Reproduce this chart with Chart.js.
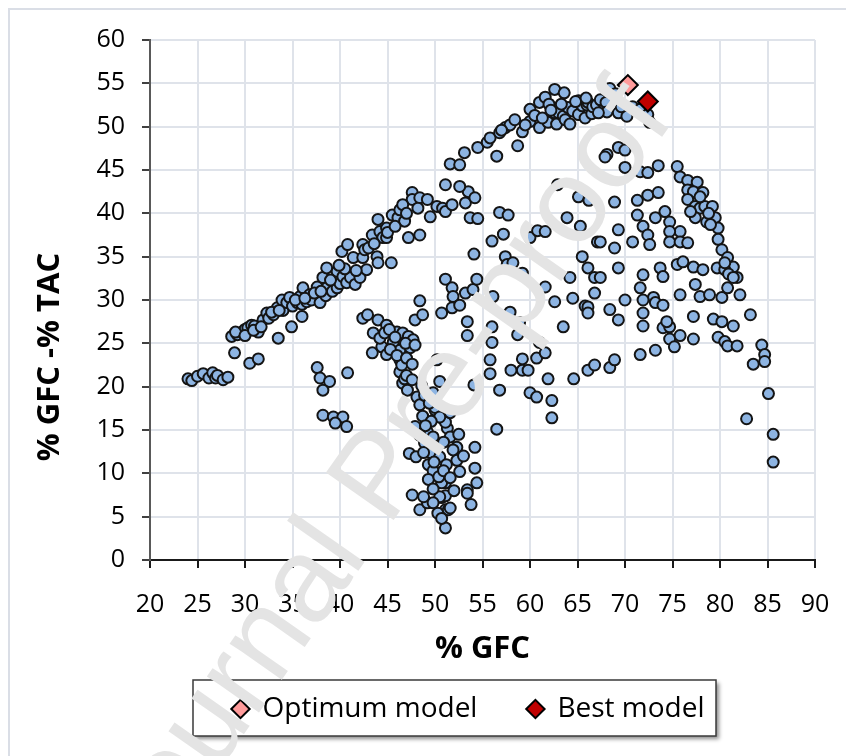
<!DOCTYPE html>
<html>
<head>
<meta charset="utf-8">
<script src="https://cdn.jsdelivr.net/npm/chart.js@4.4.0/dist/chart.umd.min.js"></script>
<style>
  html, body { margin: 0; padding: 0; background: #fff; }
</style>
</head>
<body>
<canvas id="chart" width="846" height="756"></canvas>
<script>
// model runs, [% GFC, % GFC - % TAC]
const leftRuns = [
  [24.0,20.9],[24.4,20.7],[25.0,21.2],[25.6,21.5],[26.2,21.0],[26.6,21.6],[26.9,21.0],[27.1,21.3],[27.7,20.8],[28.2,21.1],
  [28.6,25.8],[29.2,26.0],[29.7,26.3],[30.0,26.6],[30.3,26.8],[30.7,27.1],[31.0,27.0],[31.4,26.3],[31.9,27.7],[32.3,28.5],
  [32.5,27.9],[33.0,28.3],[33.4,29.1],[33.9,30.0],[34.0,28.8],[34.4,29.7],[34.7,30.3],[35.0,29.3],[35.5,29.7],[35.8,30.4],
  [36.0,29.5],[36.1,31.4],[36.5,29.8],[36.8,30.6],[37.0,30.0],[37.6,31.5],[37.9,29.7],[38.5,30.5],[38.6,31.4],[39.2,31.0],
  [39.7,31.4],[40.0,31.9],[28.9,23.9],[30.5,22.7],[31.4,23.2],[33.5,25.6],[34.9,26.9],[36.0,28.1],
  [29.0,26.3],[30.0,25.9],[30.9,26.5],[31.7,26.9],[32.8,28.6],[33.6,28.8],[35.3,30.0],[36.3,30.2],[37.3,30.8],[38.0,31.0]
];
const upperRuns = [
  [38.2,32.6],[38.6,33.7],[39.7,33.3],[40.3,32.7],[40.7,32.0],[41.1,32.6],[41.6,31.8],[42.1,32.6],[42.8,33.5],[41.4,34.9],
  [42.4,34.9],[43.9,35.0],[44.0,34.3],[40.2,35.6],[40.8,36.4],[42.4,36.4],[42.6,35.8],[43.0,36.0],[43.4,37.5],[44.2,37.9],
  [44.5,37.2],[44.0,39.3],[44.9,38.3],[44.9,37.2],[45.0,37.8],[45.5,39.8],[46.1,39.5],[46.3,40.4],[46.8,39.1],[47.2,37.2],
  [48.4,37.5],[47.6,42.4],[47.6,41.6],[48.4,41.8],[49.2,41.6],[48.2,40.6],[49.5,39.6],[50.2,40.8],[50.8,40.6],[51.1,40.2],
  [51.8,41.0],[53.2,41.2],[53.5,42.5],[54.2,41.8],[53.7,39.5],[54.5,39.4],[51.1,43.3],[52.6,43.1],[51.6,45.7],[52.6,45.6],
  [53.1,47.0],[54.5,47.6],[55.5,48.2],[55.8,48.7],[56.5,46.6],[56.8,49.3],[57.4,49.9],[57.9,50.2],[58.4,50.8],[58.7,47.8],
  [59.2,49.4],[60.0,50.6],[60.0,52.0],[61.0,49.9],[61.0,52.8],[61.6,53.4],[61.9,50.5],[62.0,52.6],[62.6,54.3],[62.6,51.6],
  [62.8,50.3],[63.0,51.6],[63.5,51.2],[63.6,53.9],[63.7,50.8],[64.0,52.2],[64.2,50.3],[64.5,51.8],[65.1,53.0],[65.1,51.4],
  [65.5,52.4],[65.8,51.0],[66.0,52.5],[66.1,52.8],[66.5,51.5],[66.6,52.3],[67.0,52.5],[67.4,53.1],[67.8,52.0],[68.0,52.8],
  [68.1,51.7],[68.4,54.4],[69.0,53.8],[69.3,51.6],[70.2,51.2],[70.8,52.3],[71.6,52.0],[72.4,51.4],[72.6,50.5],
  [45.4,34.3],[56.8,40.1],[57.7,39.8],[56.0,36.8],[57.2,37.6],[60.0,37.2],[60.8,38.0],[61.6,37.9],[54.1,35.3],[57.4,35.0],
  [57.6,34.1],[58.2,34.3],[59.2,33.1],
  [39.0,32.3],[40.5,33.6],[41.7,33.4],[39.9,34.0],[43.6,36.5],[45.8,38.5],[46.6,41.0],[47.0,40.0],
  [60.5,51.3],[61.3,51.0],[62.2,51.9],[63.3,52.6],[64.8,52.9],[65.9,53.3],[67.2,51.6],[69.6,52.3],[59.5,50.2],[57.0,49.6]
];
const middleRuns = [
  [51.1,32.4],[51.8,31.4],[51.9,30.4],[53.2,30.8],[54.0,31.2],[54.4,32.4],[56.1,30.4],[48.4,29.9],[61.6,31.5],[62.6,29.8],
  [64.2,32.6],[65.5,35.0],[66.1,33.7],[65.3,38.5],[63.9,39.5],[65.1,41.9],[66.2,41.5],[62.9,43.3],[67.1,36.7],[66.8,32.6],
  [66.8,30.8],[64.5,30.2],[65.8,29.3],[47.9,27.7],[48.7,28.3],[50.7,28.5],[51.8,29.1],[52.6,29.4],[53.4,27.5],[53.4,25.9],
  [56.0,26.9],[56.0,25.1],[57.9,28.6],[58.9,27.4],[58.7,26.0],[63.5,26.9],[66.1,29.2],[66.1,28.5],[61.0,25.1],[60.7,23.3],
  [61.6,23.9],[59.2,23.2],[58.0,21.9],[59.2,21.9],[59.8,21.9],[55.8,23.1],[55.8,21.5],[54.1,20.2],[56.8,19.6],[61.9,20.9],
  [60.0,19.3],[60.7,18.8],[62.3,18.4],[62.3,16.4],[64.6,20.9],[66.1,21.9],[66.8,22.5],[56.5,15.1]
];
const centralRuns = [
  [37.6,22.2],[37.9,21.0],[38.9,20.6],[38.2,19.6],[40.8,21.6],[38.2,16.7],[39.3,16.5],[40.3,16.5],[39.5,15.8],[40.7,15.4],
  [42.4,27.9],[42.9,28.3],[44.0,27.7],[44.9,27.1],[46.0,26.3],[46.6,26.2],[47.2,25.8],[47.7,25.4],[43.4,23.9],[44.4,24.6],
  [44.9,23.7],[45.6,25.1],[46.3,24.2],[47.4,24.5],[43.5,26.2],[44.2,25.6],[44.7,26.2],[46.3,23.1],[46.3,21.7],[46.6,20.4],
  [47.1,19.6],[48.1,18.8],[48.4,17.9],[46.5,22.5],[46.8,20.9],[47.9,15.4],[49.2,14.8],[49.8,14.2],[48.9,13.5],[50.0,13.0],
  [49.5,12.4],[50.5,11.9],[50.2,10.0],[51.1,8.9],[50.7,7.2],[51.1,5.8],[51.1,3.7],[50.0,17.3],[50.7,16.4],[51.3,15.2],
  [51.6,14.2],[52.3,13.0],[52.3,11.5],[52.6,10.2],[51.9,12.7],[53.4,8.1],[54.4,8.9],[54.2,10.6],[54.2,13.0],[53.4,7.7],
  [53.8,6.4],[47.6,7.5],[48.4,5.8],[49.2,6.6],[50.3,5.4],[51.4,5.8],[50.7,4.8],[51.1,7.4],[50.7,8.9],[50.5,7.3],
  [51.6,6.0],[50.2,23.1],[50.5,20.6],[49.8,19.3],[50.0,17.6],[51.1,15.9],[50.5,16.5],[47.3,12.3],[48.0,11.9],[48.8,12.4],
  [49.3,11.0],[49.8,10.3],[49.3,9.3],[49.8,8.2],[50.4,9.6],
  [45.2,26.6],[45.8,25.7],[46.9,25.0],[47.9,24.8],[45.3,24.3],[46.0,23.6],[47.0,23.3],[47.6,22.6],[47.0,21.3],[47.6,20.8],
  [48.6,20.1],[48.9,19.0],[49.4,18.1],[48.7,16.6],[49.6,16.0],[48.4,14.4],[49.0,15.5],[50.9,13.6],[51.2,11.0],[49.9,11.3],
  [50.9,10.3],[51.6,9.5],[52.0,8.0],[49.8,6.6],[48.8,7.3],[52.5,14.5],[53.0,12.0],[51.6,17.0]
];
const rightRuns = [
  [68.1,46.8],[69.3,47.6],[70.0,47.3],[67.9,46.5],[70.0,45.3],[71.6,44.8],[72.4,44.7],[73.5,45.5],[75.5,45.4],[75.8,44.2],
  [76.6,43.8],[77.6,43.6],[76.6,42.7],[77.2,42.5],[78.2,42.4],[76.6,41.6],[77.4,40.8],[77.9,40.6],[78.4,40.8],[79.2,40.8],
  [77.4,39.5],[78.6,39.0],[79.5,39.5],[79.8,38.3],[79.8,37.0],[80.2,35.8],[80.8,34.9],[81.4,33.8],[81.8,32.6],[82.1,30.6],
  [68.9,41.3],[71.3,41.5],[72.4,42.1],[73.5,42.4],[71.3,39.8],[73.2,39.5],[74.2,40.2],[74.7,39.0],[75.8,37.9],[69.3,38.1],
  [71.9,38.5],[72.4,37.5],[74.7,37.9],[67.4,36.7],[68.9,36.0],[70.8,36.7],[72.6,36.4],[74.7,36.7],[75.8,36.7],[76.6,36.6],
  [69.3,33.7],[71.9,32.9],[73.7,33.7],[74.0,32.7],[75.5,34.1],[76.1,34.4],[77.2,33.8],[78.2,33.5],[79.7,33.7],[80.5,33.5],
  [80.9,33.0],[67.4,32.6],[71.6,31.4],[73.0,30.3],[75.8,30.6],[77.4,31.8],[77.9,30.4],[78.9,30.6],[80.2,30.3],[80.8,31.4],
  [81.4,32.6],[70.0,30.0],[71.9,30.0],[73.2,29.7],[74.0,29.4],[68.4,28.9],[69.3,27.7],[71.9,28.5],[71.9,27.0],[74.0,26.8],
  [74.7,26.9],[74.4,27.5],[74.7,25.5],[75.2,24.6],[75.8,25.9],[77.2,25.5],[77.2,28.1],[71.6,23.7],[73.2,24.2],[68.4,22.2],
  [68.9,23.1],[79.3,27.8],[80.2,27.5],[81.4,27.0],[79.8,25.7],[80.5,25.2],[80.8,24.7],[81.8,24.7],[83.2,28.3],[84.4,24.8],
  [84.7,23.7],[84.7,22.9],[83.5,22.6],[85.1,19.2],[82.8,16.3],[85.6,14.5],[85.6,11.3],
  [77.9,41.9],[78.8,40.0],[79.0,38.7],[76.9,40.2],[80.5,34.3]
];
const optimumModel = [[70.3,54.8]];
const bestModel = [[72.4,52.9]];

const toPoints = arr => arr.map(p => ({x: p[0], y: p[1]}));
const allRuns = [].concat(leftRuns, upperRuns, middleRuns, centralRuns, rightRuns);

const tickFont = {family: 'Open Sans', size: 25};
const titleFont = {family: 'Open Sans', size: 31, weight: 'bold'};

function drawWatermark(ctx) {
    ctx.save();
    ctx.translate(382, 479);
    ctx.rotate(-55 * Math.PI / 180);
    ctx.font = '120px "Liberation Sans"';
    ctx.fillStyle = '#e4e4e4';
    ctx.textAlign = 'center';
    ctx.textBaseline = 'middle';
    ctx.fillText('Journal Pre-proof', 0, 0);
    ctx.restore();
}

// legend box, y title, outer frame and watermark
const decorations = {
    id: 'decorations',
    afterLayout(chart) {
        const lg = chart.legend;
        const dx = 468.5 - (lg.left + lg.right) / 2;
        const dy = 645 - lg.top;
        lg.left += dx; lg.right += dx;
        lg.top += dy; lg.bottom += dy;
    },
    beforeDraw(chart) {
        const ctx = chart.ctx;
        ctx.save();
        ctx.fillStyle = '#fff';
        ctx.fillRect(0, 0, chart.width, chart.height);
        ctx.strokeStyle = '#dadee6';
        ctx.lineWidth = 2;
        ctx.strokeRect(9, 9, 840, 760);
        // legend frame with shadow
        ctx.shadowColor = 'rgba(0,0,0,0.45)';
        ctx.shadowOffsetX = 3;
        ctx.shadowOffsetY = 3;
        ctx.shadowBlur = 4;
        ctx.fillStyle = '#fff';
        ctx.fillRect(193, 680, 523, 56);
        ctx.shadowColor = 'transparent';
        ctx.strokeStyle = '#3a3a3a';
        ctx.lineWidth = 1.5;
        ctx.strokeRect(193, 680, 523, 56);
        ctx.restore();
    },
    afterDatasetsDraw(chart) {
        drawWatermark(chart.ctx);
    },
    afterDraw(chart) {
        const ctx = chart.ctx;
        ctx.save();
        ctx.translate(50, 357);
        ctx.rotate(-Math.PI / 2);
        ctx.font = 'bold 31px "Open Sans"';
        ctx.fillStyle = '#000';
        ctx.textAlign = 'center';
        ctx.textBaseline = 'middle';
        ctx.fillText('% GFC -% TAC', 0, 0);
        ctx.restore();
    }
};

const ctx = document.getElementById('chart');
new Chart(ctx, {
    type: 'scatter',
    data: {
        datasets: [{
            label: 'Optimum model',
            data: toPoints(optimumModel),
            order: 1,
            pointStyle: 'rectRot',
            pointRadius: 10,
            backgroundColor: '#ff9b9b',
            borderColor: '#000',
            borderWidth: 2
        }, {
            label: 'Best model',
            data: toPoints(bestModel),
            order: 0,
            pointStyle: 'rectRot',
            pointRadius: 10,
            backgroundColor: '#c00000',
            borderColor: '#000',
            borderWidth: 2
        }, {
            label: 'Model runs',
            data: toPoints(allRuns),
            order: 2,
            pointStyle: 'circle',
            pointRadius: 5.5,
            backgroundColor: '#8db4e2',
            borderColor: '#141414',
            borderWidth: 2
        }]
    },
    options: {
        responsive: false,
        animation: false,
        layout: {padding: {left: 20, top: 40, right: 31, bottom: 0}},
        plugins: {
            tooltip: {enabled: false},
            legend: {
                position: 'bottom',
                labels: {
                    usePointStyle: true,
                    boxWidth: 16,
                    boxHeight: 13,
                    padding: 50,
                    color: '#000',
                    font: {family: 'Open Sans', size: 28},
                    filter: item => item.datasetIndex < 2,
                    sort: (a, b) => a.datasetIndex - b.datasetIndex
                }
            }
        },
        scales: {
            x: {
                type: 'linear',
                min: 20,
                max: 90,
                ticks: {stepSize: 5, padding: 22, font: tickFont, color: '#000', maxRotation: 0},
                grid: {color: '#dfe3ea', lineWidth: 2, tickLength: 8, tickColor: '#1a1a1a', tickWidth: 2},
                border: {color: '#1a1a1a', width: 2},
                title: {display: true, text: '% GFC', font: titleFont, color: '#000', padding: 0},
                afterFit(scale) {
                    scale.height = 108;
                    scale.paddingLeft = 15;
                    scale.paddingRight = 15;
                }
            },
            y: {
                min: 0,
                max: 60,
                ticks: {stepSize: 5, padding: 17, font: tickFont, color: '#000'},
                grid: {color: '#dfe3ea', lineWidth: 2, tickLength: 8, tickColor: '#404040', tickWidth: 2},
                border: {color: '#595959', width: 2},
                afterFit(scale) { scale.width = 130; }
            }
        }
    },
    plugins: [decorations]
});
</script>
</body>
</html>
